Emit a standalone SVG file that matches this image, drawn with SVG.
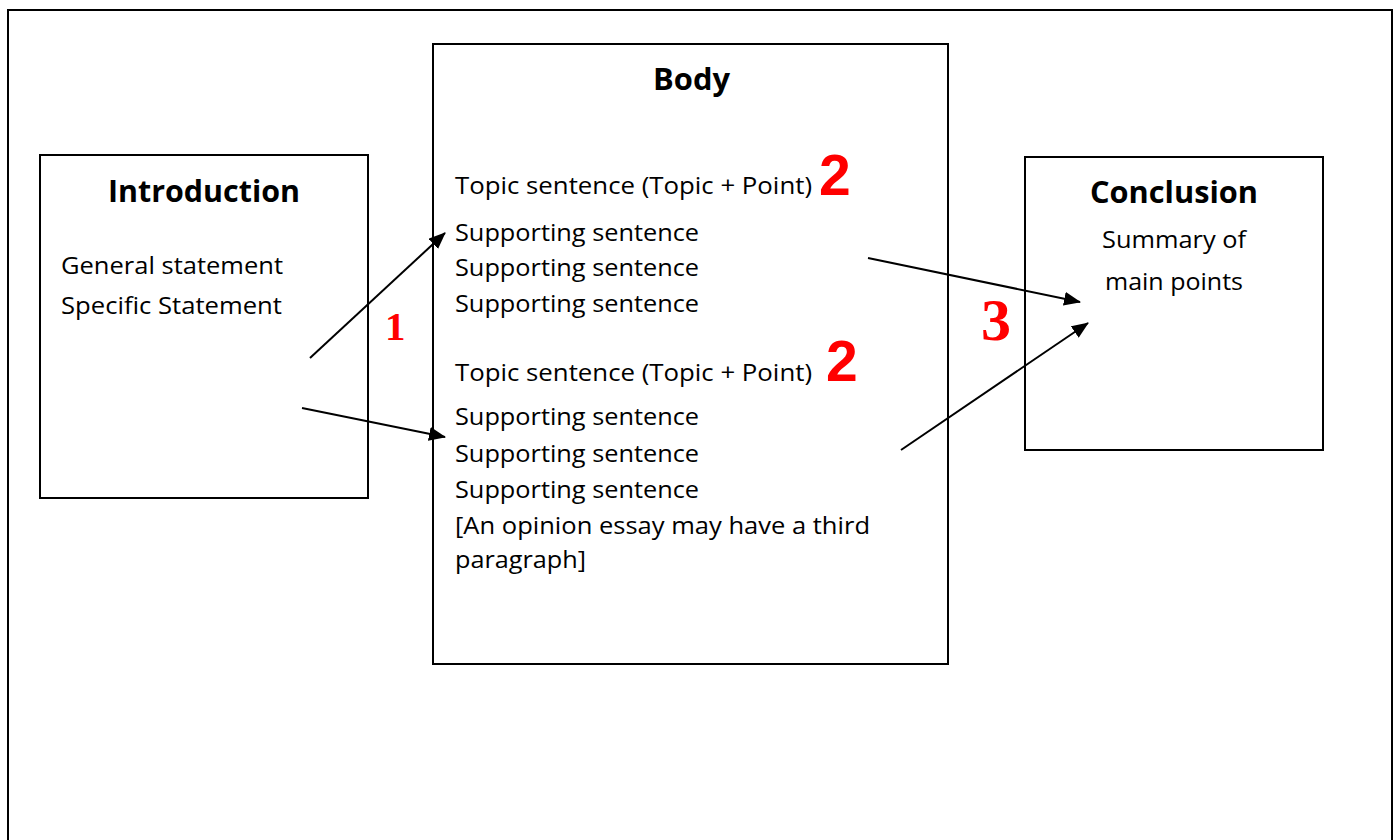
<svg xmlns="http://www.w3.org/2000/svg" width="1397" height="840" viewBox="0 0 1397 840">
<style>
.box{fill:#fff;stroke:#000;stroke-width:2}
.t{font-family:"Open Sans","Liberation Sans",sans-serif;font-size:24px;fill:#000}
.h{font-family:"Open Sans","Liberation Sans",sans-serif;font-size:31px;font-weight:bold;fill:#000}
.n{font-family:"Liberation Serif",serif;font-weight:bold;fill:#f00}
.n2{font-family:"Liberation Sans",sans-serif;font-weight:bold;fill:#f00;font-size:57px}
.c{stroke:#000;stroke-width:2;fill:none;marker-end:url(#ah)}
</style>
<defs>
<marker id="ah" markerWidth="18" markerHeight="14" refX="16" refY="7" orient="auto" markerUnits="userSpaceOnUse">
<path d="M0,0 L17,7 L0,14 Z" fill="#000"/>
</marker>
</defs>
<rect width="1397" height="840" fill="#fff"/>
<rect x="8" y="10" width="1384" height="900" fill="none" stroke="#000" stroke-width="2"/>
<g id="introduction">
<rect class="box" x="40" y="155" width="328" height="343"/>
<text class="h" x="108" y="202" textLength="192" lengthAdjust="spacingAndGlyphs">Introduction</text>
<text class="t" x="61" y="274" textLength="222" lengthAdjust="spacingAndGlyphs">General statement</text>
<text class="t" x="61" y="314" textLength="221" lengthAdjust="spacingAndGlyphs">Specific Statement</text>
</g>
<g id="body">
<rect class="box" x="433" y="44" width="515" height="620"/>
<text class="h" x="653" y="90" textLength="77" lengthAdjust="spacingAndGlyphs">Body</text>
<text class="t" x="455" y="194" textLength="357" lengthAdjust="spacingAndGlyphs">Topic sentence (Topic + Point)</text>
<text class="n2" x="819" y="195">2</text>
<text class="t" x="455" y="241" textLength="244" lengthAdjust="spacingAndGlyphs">Supporting sentence</text>
<text class="t" x="455" y="276" textLength="244" lengthAdjust="spacingAndGlyphs">Supporting sentence</text>
<text class="t" x="455" y="312" textLength="244" lengthAdjust="spacingAndGlyphs">Supporting sentence</text>
<text class="t" x="455" y="381" textLength="357" lengthAdjust="spacingAndGlyphs">Topic sentence (Topic + Point)</text>
<text class="n2" x="826" y="381">2</text>
<text class="t" x="455" y="425" textLength="244" lengthAdjust="spacingAndGlyphs">Supporting sentence</text>
<text class="t" x="455" y="462" textLength="244" lengthAdjust="spacingAndGlyphs">Supporting sentence</text>
<text class="t" x="455" y="498" textLength="244" lengthAdjust="spacingAndGlyphs">Supporting sentence</text>
<text class="t" x="455" y="534" textLength="415" lengthAdjust="spacingAndGlyphs">[An opinion essay may have a third</text>
<text class="t" x="455" y="568" textLength="131" lengthAdjust="spacingAndGlyphs">paragraph]</text>
</g>
<g id="conclusion">
<rect class="box" x="1025" y="157" width="298" height="293"/>
<text class="h" x="1090" y="203" textLength="168" lengthAdjust="spacingAndGlyphs">Conclusion</text>
<text class="t" x="1102" y="248" textLength="144" lengthAdjust="spacingAndGlyphs">Summary of</text>
<text class="t" x="1105" y="290" textLength="138" lengthAdjust="spacingAndGlyphs">main points</text>
</g>
<g id="connectors">
<line class="c" x1="310" y1="358" x2="445" y2="233"/>
<line class="c" x1="302" y1="408" x2="445" y2="437"/>
<line class="c" x1="868" y1="258" x2="1080" y2="302"/>
<line class="c" x1="901" y1="450" x2="1088" y2="323"/>
</g>
<g id="labels">
<text class="n" x="385" y="340" font-size="41">1</text>
<text class="n" x="981" y="340" font-size="60">3</text>
</g>
</svg>
